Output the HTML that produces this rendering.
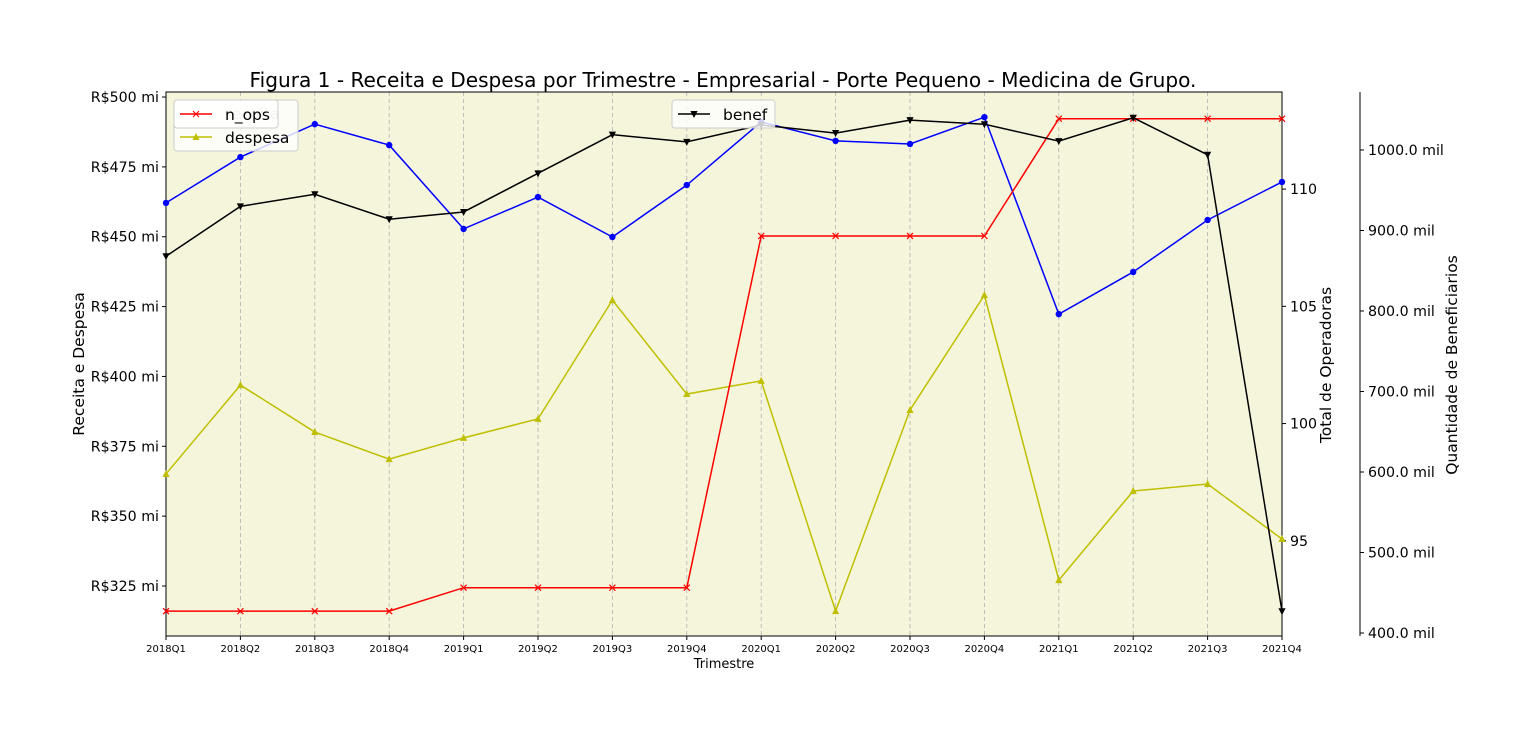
<!DOCTYPE html>
<html><head><meta charset="utf-8"><style>
body{margin:0;background:#fff;font-family:"Liberation Sans","DejaVu Sans",sans-serif}
svg text{font-family:"DejaVu Sans","Liberation Sans",sans-serif}
</style></head><body>
<svg id="c" width="1532" height="742"></svg>
<script>
const categories=["2018Q1","2018Q2","2018Q3","2018Q4","2019Q1","2019Q2","2019Q3","2019Q4","2020Q1","2020Q2","2020Q3","2020Q4","2021Q1","2021Q2","2021Q3","2021Q4"];
const receita=[462.1,478.5,490.3,482.8,452.8,464.2,449.9,468.5,491.1,484.3,483.2,492.8,422.3,437.4,456.0,469.6];
const despesa=[365.1,396.9,380.1,370.4,378.0,384.8,427.3,393.7,398.4,316.0,388.0,429.1,327.1,359.0,361.5,341.8];
const nOps=[92,92,92,92,93,93,93,93,108,108,108,108,113,113,113,113];
const benef=[868,930,945,914,923,971,1019,1010,1031,1021,1037,1032,1011,1040,994,427];
const leftTicks=[325,350,375,400,425,450,475,500];
const opsTicks=[95,100,105,110];
const benefTicks=[400,500,600,700,800,900,1000];

const NS="http://www.w3.org/2000/svg";
const svg=document.getElementById('c');
const X0=166,X1=1282,Y0=92,Y1=636;
const xs=i=>X0+i*(X1-X0)/(categories.length-1);
const yL=v=>Y1-(v-307.1)/(501.8-307.1)*(Y1-Y0);
const yO=v=>Y1-(v-90.94)/(114.14-90.94)*(Y1-Y0);
const yB=v=>Y1-(v-396.3)/(1072-396.3)*(Y1-Y0);
function el(t,a,txt){const e=document.createElementNS(NS,t);for(const k in a)e.setAttribute(k,a[k]);if(txt!==undefined)e.textContent=txt;svg.appendChild(e);return e;}

let bg=el('rect',{x:X0,y:Y0,width:X1-X0,height:Y1-Y0,fill:'#f5f5dc'});


categories.forEach((c,i)=>{
  const g=el('line',{x1:xs(i),x2:xs(i),y1:Y0,y2:Y1,stroke:'#b0b0b0','stroke-dasharray':'4,3','stroke-width':0.8});
  
  
  el('line',{x1:xs(i),x2:xs(i),y1:Y1,y2:Y1+4,stroke:'#000'});
  const t=el('text',{x:xs(i),y:Y1+16,'font-size':10,'text-anchor':'middle'},c);
  
  
});
leftTicks.forEach(v=>{
  el('line',{x1:X0-4,x2:X0,y1:yL(v),y2:yL(v),stroke:'#000'});
  const t=el('text',{x:X0-7,y:yL(v)+5,'font-size':14.2,'text-anchor':'end'},'R$'+v+' mi');
  
  
});
opsTicks.forEach(v=>{
  el('line',{x1:X1,x2:X1+4,y1:yO(v),y2:yO(v),stroke:'#000'});
  const t=el('text',{x:X1+8,y:yO(v)+5,'font-size':14.2},v);
  
  
});
el('line',{x1:1360,x2:1360,y1:Y0,y2:Y1,stroke:'#000'});
benefTicks.forEach(v=>{
  el('line',{x1:1360,x2:1364,y1:yB(v),y2:yB(v),stroke:'#000'});
  const t=el('text',{x:1368,y:yB(v)+5,'font-size':14.2},v.toFixed(1)+' mil');
  
  
});
el('rect',{x:X0,y:Y0,width:X1-X0,height:Y1-Y0,fill:'none',stroke:'#000','stroke-width':1});

function series(vals,yf,color,marker,name){
  const pts=vals.map((v,i)=>xs(i)+','+yf(v)).join(' ');
  const p=el('polyline',{points:pts,fill:'none',stroke:color,'stroke-width':1.5});
  
  
  vals.forEach((v,i)=>{
    const x=xs(i),y=yf(v);let m;
    if(marker==='o')m=el('circle',{cx:x,cy:y,r:3.2,fill:color});
    else if(marker==='^')m=el('polygon',{points:`${x},${y-4} ${x-3.6},${y+3} ${x+3.6},${y+3}`,fill:color});
    else if(marker==='v')m=el('polygon',{points:`${x},${y+4} ${x-3.6},${y-3} ${x+3.6},${y-3}`,fill:color});
    else m=el('path',{d:`M${x-3},${y-3}L${x+3},${y+3}M${x-3},${y+3}L${x+3},${y-3}`,stroke:color,'stroke-width':1.2});
    
    
  });
}
series(receita,yL,'#0000ff','o','receita');
series(despesa,yL,'#bfbf00','^','despesa');
series(nOps,yO,'#ff0000','x','n-ops');
series(benef,yB,'#000000','v','benef');

el('rect',{x:174,y:100,width:124,height:51,rx:3,fill:'#fff','fill-opacity':0.8,stroke:'#ccc'});
el('text',{x:226,y:119,'font-size':15.5,fill:'#bbb'},'receita');
el('rect',{x:174,y:100,width:104,height:28,rx:3,fill:'#fff','fill-opacity':0.8,stroke:'#ccc'});
el('line',{x1:180,x2:212,y1:114,y2:114,stroke:'#f00','stroke-width':1.5});
el('path',{d:'M193,111L199,117M193,117L199,111',stroke:'#f00'});
let l1=el('text',{x:225,y:120,'font-size':15.5},'n_ops');


el('line',{x1:180,x2:212,y1:137,y2:137,stroke:'#bfbf00','stroke-width':1.5});
el('polygon',{points:'196,133 192.4,140 199.6,140',fill:'#bfbf00'});
let l2=el('text',{x:225,y:143,'font-size':15.5},'despesa');


el('rect',{x:672,y:100,width:103,height:28,rx:3,fill:'#fff','fill-opacity':0.8,stroke:'#ccc'});
el('line',{x1:678,x2:710,y1:114,y2:114,stroke:'#000','stroke-width':1.5});
el('polygon',{points:'694,118 690.4,111 697.6,111',fill:'#000'});
let l3=el('text',{x:723,y:120,'font-size':15.5},'benef');



let ti=el('text',{x:723,y:87,'font-size':20.1,'text-anchor':'middle'},'Figura 1 - Receita e Despesa por Trimestre - Empresarial - Porte Pequeno - Medicina de Grupo.');


let xt=el('text',{x:724,y:668,'font-size':13,'text-anchor':'middle'},'Trimestre');


let yt=el('text',{x:84,y:364,'font-size':15.5,'text-anchor':'middle',transform:'rotate(-90 84 364)'},'Receita e Despesa');


let y2=el('text',{x:1331,y:365,'font-size':15.5,'text-anchor':'middle',transform:'rotate(-90 1331 365)'},'Total de Operadoras');


let y3=el('text',{x:1457,y:365,'font-size':15.5,'text-anchor':'middle',transform:'rotate(-90 1457 365)'},'Quantidade de Beneficiarios');


</script>
</body></html>
